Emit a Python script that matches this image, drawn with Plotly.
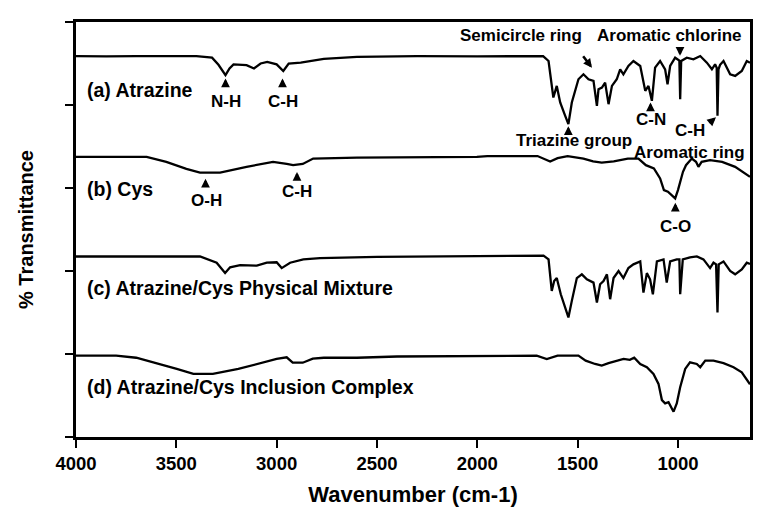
import plotly.graph_objects as go

# ---------------- data ----------------
wn_a = [4000, 3850, 3700, 3500, 3400, 3322, 3290, 3255, 3235, 3215, 3150, 3113, 3080, 3047,
        3000, 2967, 2940, 2880, 2765, 2600, 2300, 2000, 1800, 1672, 1645, 1629, 1621, 1604,
        1587, 1562, 1546, 1529, 1512, 1496, 1471, 1446, 1421, 1404, 1396, 1379, 1363, 1346,
        1329, 1305, 1288, 1272, 1247, 1222, 1188, 1163, 1147, 1130, 1114, 1089, 1064, 1052,
        1039, 1014, 993, 989, 984, 956, 923, 889, 856, 831, 815, 807, 803, 798, 790, 773,
        740, 715, 682, 657, 641]
T_a = [91.8, 91.7, 91.8, 91.8, 91.8, 91.4, 89.7, 87.2, 88.8, 89.8, 89.6, 88.8, 90.0, 90.4,
       89.8, 88.2, 90.0, 90.2, 91.1, 91.6, 91.8, 91.7, 91.8, 91.8, 90.6, 85.4, 81.8, 84.6,
       80.6, 77.4, 75.4, 80.6, 83.8, 86.2, 87.4, 86.2, 85.8, 79.8, 83.8, 84.2, 85.4, 80.2,
       84.6, 86.2, 88.6, 87.4, 89.4, 90.6, 89.4, 83.4, 84.6, 81.0, 89.0, 90.6, 88.6, 85.0,
       89.4, 91.4, 90.7, 81.4, 90.6, 91.4, 91.0, 91.8, 90.2, 88.6, 89.8, 89.0, 77.4, 88.6,
       89.7, 90.6, 87.4, 87.0, 88.2, 90.6, 90.2]

wn_b = [4000, 3648, 3550, 3450, 3382, 3282, 3150, 3018, 2950, 2918, 2870, 2818, 2600, 2002,
        1950, 1700, 1637, 1600, 1550, 1471, 1423, 1380, 1320, 1250, 1197, 1160, 1120, 1089,
        1070, 1050, 1014, 1000, 975, 960, 931, 910, 898, 882, 840, 780, 715, 650, 641]
T_b = [67.5, 67.5, 66.3, 64.6, 63.7, 63.7, 65.1, 66.3, 65.8, 65.5, 65.8, 67.1, 67.3, 67.5,
       67.7, 67.7, 66.4, 67.2, 67.7, 67.1, 66.4, 66.1, 66.4, 67.1, 67.1, 65.5, 64.7, 62.3,
       59.5, 59.1, 57.5, 59.5, 63.9, 65.5, 67.1, 66.3, 65.1, 66.3, 66.7, 66.3, 65.1, 63.1, 62.7]

wn_c = [4000, 3382, 3299, 3257, 3232, 3182, 3099, 3049, 3000, 2975, 2933, 2867, 2784, 2500,
        2000, 1670, 1645, 1629, 1617, 1604, 1584, 1562, 1546, 1529, 1504, 1479, 1454, 1421,
        1404, 1388, 1371, 1354, 1338, 1321, 1296, 1272, 1247, 1222, 1188, 1172, 1155, 1139,
        1125, 1105, 1072, 1056, 1039, 1006, 993, 989, 976, 940, 906, 873, 840, 823, 810, 803,
        797, 773, 740, 715, 682, 657, 641]
T_c = [43.5, 43.5, 42.0, 39.5, 40.9, 41.4, 41.3, 42.0, 42.1, 40.7, 42.0, 42.8, 43.1, 43.4,
       43.6, 43.7, 42.8, 35.2, 37.6, 38.3, 34.4, 31.2, 28.8, 32.8, 38.3, 39.2, 38.0, 37.2,
       32.4, 36.8, 37.6, 39.2, 33.2, 38.3, 40.0, 38.3, 40.7, 41.6, 42.3, 34.8, 39.5, 38.0,
       34.4, 42.3, 42.8, 37.2, 42.3, 42.8, 42.8, 34.4, 42.8, 43.3, 43.5, 42.8, 40.7, 42.0,
       41.6, 30.0, 41.6, 42.3, 40.0, 39.2, 40.4, 42.0, 41.7]

wn_d = [4000, 3800, 3700, 3581, 3498, 3415, 3318, 3191, 3100, 3000, 2950, 2920, 2870, 2820,
        2765, 2600, 2400, 2000, 1704, 1654, 1620, 1600, 1496, 1460, 1413, 1380, 1346, 1296,
        1271, 1240, 1218, 1188, 1155, 1122, 1097, 1080, 1064, 1047, 1022, 1006, 989, 964,
        940, 906, 889, 864, 823, 773, 723, 682, 648, 641]
T_d = [19.6, 19.6, 19.1, 17.6, 16.4, 15.2, 15.2, 16.4, 17.6, 18.8, 19.2, 17.9, 17.9, 18.9,
       19.1, 19.1, 19.4, 19.6, 19.6, 18.8, 19.2, 19.6, 19.6, 18.4, 17.6, 17.2, 17.8, 18.4,
       18.8, 18.6, 19.1, 17.6, 16.8, 15.2, 12.8, 8.9, 8.1, 8.4, 6.1, 8.1, 12.0, 16.4,
       18.0, 17.6, 16.8, 18.4, 18.4, 17.8, 16.8, 15.6, 13.2, 12.7]

series_names = ["(a) Atrazine", "(b) Cys", "(c) Atrazine/Cys Physical Mixture",
                "(d) Atrazine/Cys Inclusion Complex"]
x_ticks = [4000, 3500, 3000, 2500, 2000, 1500, 1000]

# ---------------- figure ----------------
FONT = "Liberation Sans, Arial, sans-serif"
fig = go.Figure()
for wn, T, name in [(wn_a, T_a, series_names[0]), (wn_b, T_b, series_names[1]),
                    (wn_c, T_c, series_names[2]), (wn_d, T_d, series_names[3])]:
    fig.add_trace(go.Scatter(x=wn, y=T, mode="lines", name=name,
                             line=dict(color="black", width=2.3), showlegend=False))

# pixel helpers for placing annotations (screen pixels of the target picture)
L, R, TOP, BOT = 76, 750, 19, 437
OFF = 8  # page body margin
def PX(px):
    return 4000 - (px - L) * (4000 - 641) / (R - L)
def PY(py):
    return (BOT - py) * 100 / (BOT - TOP)

ann = []
# series labels
for name, yc in zip(series_names, [87, 187, 287, 387]):
    ann.append(dict(x=PX(85), y=PY(yc), text=name, showarrow=False, xanchor="left",
                    yanchor="middle", font=dict(size=19.5, family=FONT, color="black", weight="bold")))

small = dict(size=17, family=FONT, color="black", weight="bold")
labels = [("N-H", 225.7, 99), ("C-H", 282.7, 99), ("O-H", 206.7, 199), ("C-H", 297.3, 190),
          ("Semicircle ring", 520.7, 33), ("Aromatic chlorine", 669, 33),
          ("Triazine group", 574, 138), ("C-N", 650.7, 117), ("C-H", 690, 128),
          ("Aromatic ring", 689, 150), ("C-O", 675.7, 225)]
for t, xp, yp in labels:
    ann.append(dict(x=PX(xp), y=PY(yp), text=t, showarrow=False, xanchor="center",
                    yanchor="middle", font=small))

# arrows: (head x px, head y px, ax, ay)
arrows = [(225.5, 76, 0, 9), (282.5, 76, 0, 9), (205.5, 177, 0, 9), (297, 170, 0, 9),
          (680, 53, 0, -9), (592, 65, -10, -13), (568.3, 124, 0, 9), (650.5, 100, 0, 9),
          (716, 115, -8, 7), (675.3, 201, 0, 9)]
for xp, yp, ax, ay in arrows:
    ann.append(dict(x=PX(xp), y=PY(yp), text="", showarrow=True, ax=ax, ay=ay,
                    arrowhead=2, arrowsize=0.7, arrowwidth=2.5, arrowcolor="black"))

fig.update_layout(
    width=767, height=522,
    margin=dict(l=L - OFF, r=767 - (R - OFF), t=TOP - OFF, b=522 - (BOT - OFF)),
    paper_bgcolor="white", plot_bgcolor="white",
    font=dict(family=FONT, color="black"),
    annotations=ann,
)
fig.update_xaxes(range=[4000, 641], tickvals=x_ticks, ticks="outside", ticklen=8,
                 tickwidth=2, tickcolor="black", showline=True, linewidth=2.5,
                 linecolor="black", mirror=True, showgrid=False, zeroline=False,
                 tickfont=dict(size=18.5, family=FONT, color="black", weight="bold"),
                 title=dict(text="Wavenumber (cm-1)", standoff=14,
                            font=dict(size=22, family=FONT, color="black", weight="bold")))
fig.update_yaxes(range=[0, 100], dtick=20, tick0=0, ticks="outside", ticklen=8,
                 tickwidth=2, tickcolor="black", showticklabels=False, showline=True,
                 linewidth=2.5, linecolor="black", mirror=True, showgrid=False,
                 zeroline=False,
                 title=dict(text="% Transmittance", standoff=27,
                            font=dict(size=20, family=FONT, color="black", weight="bold")))

fig.write_html("out.html")
